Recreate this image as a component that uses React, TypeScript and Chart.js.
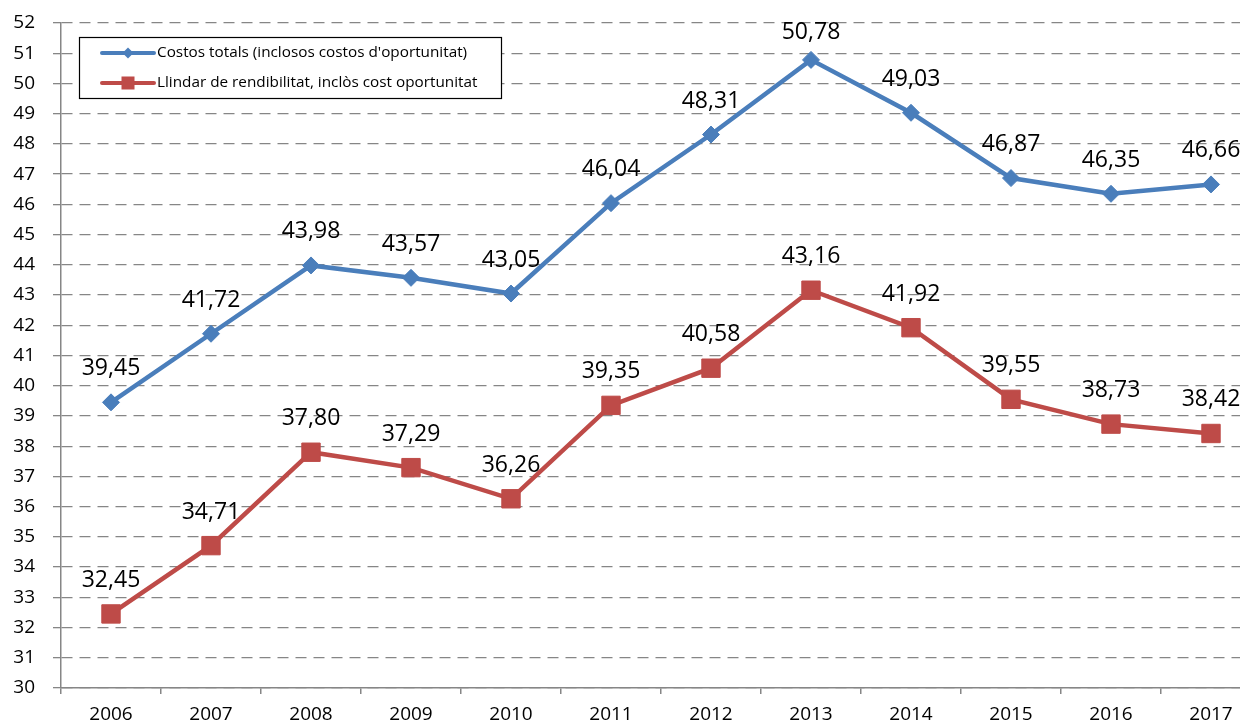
import React, { useEffect, useRef } from 'react';
import { Chart, registerables } from 'chart.js';

Chart.register(...registerables);

const years = ['2006', '2007', '2008', '2009', '2010', '2011', '2012', '2013', '2014', '2015', '2016', '2017'];
const totalCosts = [39.45, 41.72, 43.98, 43.57, 43.05, 46.04, 48.31, 50.78, 49.03, 46.87, 46.35, 46.66];
const breakEven = [32.45, 34.71, 37.8, 37.29, 36.26, 39.35, 40.58, 43.16, 41.92, 39.55, 38.73, 38.42];
const seriesLabels = [
  "Costos totals (inclosos costos d'oportunitat)",
  'Llindar de rendibilitat, inclòs cost oportunitat',
];
const yMin = 30;
const yMax = 52;
const yStep = 1;

const BLUE = '#4A7EBB';
const RED = '#BE4B48';
const GRID = '#868686';
const FONT = '"Open Sans", "Liberation Sans", sans-serif';

const CANVAS_W = 1290;
const CANVAS_H = 725;

const fmt = (v: number) => v.toFixed(2).replace('.', ',');

const dataLabelPlugin = {
  id: 'dataLabels',
  afterDatasetsDraw(chart: any) {
    const { ctx, chartArea } = chart;
    ctx.save();
    ctx.font = `23px ${FONT}`;
    ctx.fillStyle = '#000';
    ctx.textAlign = 'center';
    ctx.textBaseline = 'alphabetic';
    chart.data.datasets.forEach((ds: any, di: number) => {
      const meta = chart.getDatasetMeta(di);
      meta.data.forEach((pt: any, i: number) => {
        let baseline = pt.y - 27;
        const minBase = chartArea.top + 15.5;
        if (baseline < minBase) baseline = minBase;
        ctx.fillText(fmt(ds.data[i]), pt.x, baseline);
      });
    });
    ctx.restore();
  },
};

const legendPlugin = {
  id: 'boxLegend',
  afterDraw(chart: any) {
    const { ctx, chartArea } = chart;
    const bx = chartArea.left + 18;
    const by = chartArea.top + 14;
    const bw = 422;
    const bh = 61;
    ctx.save();
    ctx.fillStyle = '#fff';
    ctx.fillRect(bx, by, bw, bh);
    ctx.strokeStyle = '#000';
    ctx.lineWidth = 1.2;
    ctx.strokeRect(bx + 0.5, by + 0.5, bw, bh);
    const rows = [
      { y: by + 16, color: BLUE, shape: 'diamond' },
      { y: by + 46, color: RED, shape: 'square' },
    ];
    rows.forEach((r, i) => {
      const x1 = bx + 23;
      const x2 = bx + 75;
      ctx.strokeStyle = r.color;
      ctx.lineWidth = 4;
      ctx.lineCap = 'round';
      ctx.beginPath();
      ctx.moveTo(x1, r.y);
      ctx.lineTo(x2, r.y);
      ctx.stroke();
      const cx = (x1 + x2) / 2;
      ctx.fillStyle = r.color;
      ctx.beginPath();
      if (r.shape === 'diamond') {
        const s = 5.5;
        ctx.moveTo(cx - s, r.y);
        ctx.lineTo(cx, r.y - s);
        ctx.lineTo(cx + s, r.y);
        ctx.lineTo(cx, r.y + s);
        ctx.closePath();
        ctx.fill();
      } else {
        ctx.fillRect(cx - 6.5, r.y - 6.5, 13, 13);
      }
      ctx.fillStyle = '#000';
      ctx.font = `15.3px ${FONT}`;
      ctx.textAlign = 'left';
      ctx.textBaseline = 'middle';
      ctx.fillText(chart.data.datasets[i].label, x2 + 3, r.y);
    });
    ctx.restore();
  },
};

export default function App() {
  const canvasRef = useRef<HTMLCanvasElement | null>(null);

  useEffect(() => {
    if (!canvasRef.current) return;
    const chart = new Chart(canvasRef.current, {
      type: 'line',
      data: {
        labels: years,
        datasets: [
          {
            label: seriesLabels[0],
            data: totalCosts,
            borderColor: BLUE,
            backgroundColor: BLUE,
            borderWidth: 4.5,
            pointStyle: 'rectRot',
            pointRadius: 8.5,
            pointBackgroundColor: BLUE,
            pointBorderColor: BLUE,
            pointBorderWidth: 1,
            tension: 0,
            fill: false,
          },
          {
            label: seriesLabels[1],
            data: breakEven,
            borderColor: RED,
            backgroundColor: RED,
            borderWidth: 4.5,
            pointStyle: 'rect',
            pointRadius: 13,
            pointBackgroundColor: RED,
            pointBorderColor: RED,
            pointBorderWidth: 1,
            tension: 0,
            fill: false,
          },
        ],
      },
      options: {
        responsive: false,
        animation: false,
        devicePixelRatio: 1,
        layout: {
          autoPadding: false,
          padding: { top: 23, right: CANVAS_W - 1261, left: 0, bottom: 0 },
        },
        plugins: {
          legend: { display: false },
          tooltip: { enabled: false },
          title: { display: false },
        },
        scales: {
          x: {
            type: 'category',
            offset: true,
            grid: {
              display: true,
              drawOnChartArea: false,
              drawTicks: true,
              tickLength: 6,
              offset: true,
              color: GRID,
              tickColor: GRID,
              lineWidth: 1.5,
              tickWidth: 1.5,
            },
            border: { display: true, color: GRID, width: 1.5 },
            ticks: {
              color: '#000',
              font: { family: FONT, size: 19 },
              padding: 9,
              maxRotation: 0,
              autoSkip: false,
            },
            afterFit(scale: any) {
              scale.height = 37;
              scale.paddingLeft = 0;
              scale.paddingRight = 0;
            },
          },
          y: {
            min: yMin,
            max: yMax,
            grid: {
              color: GRID,
              lineWidth: 1.3,
              tickLength: 8,
              tickColor: GRID,
              tickWidth: 1.3,
              drawTicks: true,
            },
            border: { display: true, color: GRID, width: 1.5, dash: [11, 7] },
            ticks: {
              stepSize: yStep,
              color: '#000',
              font: { family: FONT, size: 19, lineHeight: 0.5 },
              padding: 18,
            },
            afterFit(scale: any) {
              scale.width = 61;
              scale.paddingTop = 0;
              scale.paddingBottom = 0;
            },
          },
        },
      },
      plugins: [dataLabelPlugin, legendPlugin],
    } as any);
    return () => chart.destroy();
  }, []);

  return (
    <div
      style={{
        position: 'fixed',
        left: 0,
        top: 0,
        width: 1240,
        height: 725,
        overflow: 'hidden',
        background: '#fff',
      }}
    >
      <canvas
        ref={canvasRef}
        width={CANVAS_W}
        height={CANVAS_H}
        style={{ display: 'block', width: CANVAS_W, height: CANVAS_H }}
      />
    </div>
  );
}
